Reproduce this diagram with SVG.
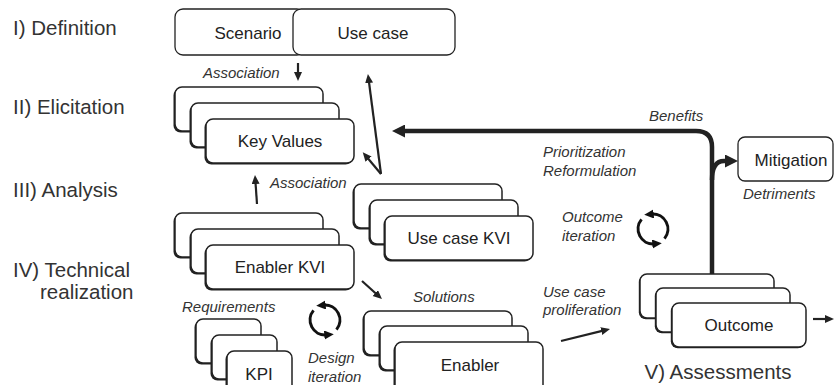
<svg xmlns="http://www.w3.org/2000/svg" width="834" height="385" viewBox="0 0 834 385">
<style>
.bg{fill:#fff}
.card{fill:#fff;stroke:#222;stroke-width:1.5}
.sh{fill:#222}
.box{fill:#fff;stroke:#222;stroke-width:1.3}
.lvl{font-family:"Liberation Sans","DejaVu Sans",sans-serif;font-size:20.5px;fill:#333}
.nt{font-family:"Liberation Sans","DejaVu Sans",sans-serif;font-size:17px;fill:#222;text-anchor:middle}
.it{font-family:"Liberation Sans","DejaVu Sans",sans-serif;font-size:15px;font-style:italic;fill:#333}
.thin{fill:none;stroke:#222;stroke-width:2.2;marker-end:url(#ah)}
.thick{fill:none;stroke:#222;stroke-width:4.5;marker-end:url(#ahb)}
.cyc{fill:none;stroke:#111;stroke-width:3;marker-end:url(#ahc)}
</style>
<defs>
<marker id="ah" markerUnits="userSpaceOnUse" markerWidth="10" markerHeight="9" refX="3" refY="4" orient="auto"><path d="M0,0 L9,4 L0,8 z" fill="#222"/></marker>
<marker id="ahb" markerUnits="userSpaceOnUse" markerWidth="14" markerHeight="13" refX="3" refY="6.5" orient="auto"><path d="M0,0 L13,6.5 L0,13 z" fill="#222"/></marker>
<marker id="ahc" markerUnits="userSpaceOnUse" markerWidth="11" markerHeight="10" refX="2" refY="4.5" orient="auto"><path d="M0,0 L9.5,4.5 L0,9 z" fill="#111"/></marker>
</defs>
<rect class="bg" x="0" y="0" width="834" height="385"/>

<g id="levels">
<text class="lvl" x="13" y="35">I) Definition</text>
<text class="lvl" x="13" y="114">II) Elicitation</text>
<text class="lvl" x="13" y="197">III) Analysis</text>
<text class="lvl" x="13" y="277">IV) Technical</text>
<text class="lvl" x="40" y="299">realization</text>
<text class="lvl" x="718" y="379" text-anchor="middle">V) Assessments</text>
</g>

<g id="scenario">
<rect class="box" x="175" y="9" width="130" height="46" rx="8"/>
<text class="nt" x="248" y="39">Scenario</text>
</g>
<g id="usecase">
<rect class="box" x="293" y="9" width="162" height="46" rx="8"/>
<text class="nt" x="373" y="39">Use case</text>
</g>

<g id="keyvalues">
<rect class="sh" x="173.5" y="88.5" width="148" height="44" rx="7"/>
<rect class="card" x="175" y="87" width="148" height="44" rx="7"/>
<rect class="sh" x="189.5" y="104.5" width="148" height="44" rx="7"/>
<rect class="card" x="191" y="103" width="148" height="44" rx="7"/>
<rect class="sh" x="204.5" y="120.5" width="148" height="44" rx="7"/>
<rect class="card" x="206" y="119" width="148" height="44" rx="7"/>
<text class="nt" x="280" y="147">Key Values</text>
</g>

<g id="usecasekvi">
<rect class="sh" x="352.5" y="185.5" width="148" height="44" rx="7"/>
<rect class="card" x="354" y="184" width="148" height="44" rx="7"/>
<rect class="sh" x="368.5" y="201.5" width="148" height="44" rx="7"/>
<rect class="card" x="370" y="200" width="148" height="44" rx="7"/>
<rect class="sh" x="383.5" y="217.5" width="148" height="44" rx="7"/>
<rect class="card" x="385" y="216" width="148" height="44" rx="7"/>
<text class="nt" x="459" y="244">Use case KVI</text>
</g>

<g id="enablerkvi">
<rect class="sh" x="173.5" y="214.5" width="148" height="44" rx="7"/>
<rect class="card" x="175" y="213" width="148" height="44" rx="7"/>
<rect class="sh" x="189.5" y="230.5" width="148" height="44" rx="7"/>
<rect class="card" x="191" y="229" width="148" height="44" rx="7"/>
<rect class="sh" x="204.5" y="246.5" width="148" height="44" rx="7"/>
<rect class="card" x="206" y="245" width="148" height="44" rx="7"/>
<text class="nt" x="280" y="273">Enabler KVI</text>
</g>

<g id="kpi">
<rect class="sh" x="194.5" y="320.5" width="65" height="44" rx="7"/>
<rect class="card" x="196" y="319" width="65" height="44" rx="7"/>
<rect class="sh" x="210.5" y="336.5" width="65" height="44" rx="7"/>
<rect class="card" x="212" y="335" width="65" height="44" rx="7"/>
<rect class="sh" x="225.5" y="352.5" width="65" height="44" rx="7"/>
<rect class="card" x="227" y="351" width="65" height="44" rx="7"/>
<text class="nt" x="259" y="380">KPI</text>
</g>

<g id="enabler">
<rect class="sh" x="362.5" y="312.5" width="148" height="44" rx="7"/>
<rect class="card" x="364" y="311" width="148" height="44" rx="7"/>
<rect class="sh" x="378.5" y="327.5" width="148" height="44" rx="7"/>
<rect class="card" x="380" y="326" width="148" height="44" rx="7"/>
<rect class="sh" x="393.5" y="343.5" width="148" height="50" rx="7"/>
<rect class="card" x="395" y="342" width="148" height="50" rx="7"/>
<text class="nt" x="470" y="371">Enabler</text>
</g>

<g id="outcome">
<rect class="sh" x="638.8" y="275.2" width="134" height="44" rx="7"/>
<rect class="card" x="640" y="274" width="134" height="44" rx="7"/>
<rect class="sh" x="654.8" y="289.2" width="134" height="44" rx="7"/>
<rect class="card" x="656" y="288" width="134" height="44" rx="7"/>
<rect class="sh" x="670.8" y="304.2" width="134" height="44" rx="7"/>
<rect class="card" x="672" y="303" width="134" height="44" rx="7"/>
<text class="nt" x="739" y="331">Outcome</text>
</g>

<g id="mitigation">
<rect class="box" x="738" y="137" width="95" height="44" rx="7"/>
<text class="nt" x="791" y="166">Mitigation</text>
</g>

<g id="connectors">
<path class="thin" d="M298,63 L298,75"/>
<path class="thin" d="M381,174 L368.7,80"/>
<path class="thin" d="M381,174 L366.6,156.8"/>
<path class="thin" d="M257,204 L255.4,181"/>
<path class="thin" d="M362,281 L377.5,295"/>
<path class="thin" d="M561,341 L604.2,330.4"/>
<path class="thin" d="M813,319 L828,319"/>
<path class="thick" d="M712,274 V147 Q712,131 696,131 H402"/>
<path class="thick" d="M712,180 Q712,161 724,161 H728"/>
<path class="cyc" d="M664.5,238.6 A15,15 0 0 0 651.7,214.1"/>
<path class="cyc" d="M641.5,219.4 A15,15 0 0 0 654.3,243.9"/>
<path class="cyc" d="M336.5,329.6 A15,15 0 0 0 323.7,305.1"/>
<path class="cyc" d="M313.5,310.4 A15,15 0 0 0 326.3,334.9"/>
</g>

<g id="labels">
<text class="it" x="203" y="78">Association</text>
<text class="it" x="270" y="188">Association</text>
<text class="it" x="649" y="121">Benefits</text>
<text class="it" x="543" y="157">Prioritization</text>
<text class="it" x="543" y="176">Reformulation</text>
<text class="it" x="743" y="199">Detriments</text>
<text class="it" x="562" y="222">Outcome</text>
<text class="it" x="562" y="241">iteration</text>
<text class="it" x="182" y="312">Requirements</text>
<text class="it" x="413" y="302">Solutions</text>
<text class="it" x="308" y="363">Design</text>
<text class="it" x="308" y="382">iteration</text>
<text class="it" x="543" y="297">Use case</text>
<text class="it" x="543" y="315">proliferation</text>
</g>
</svg>
